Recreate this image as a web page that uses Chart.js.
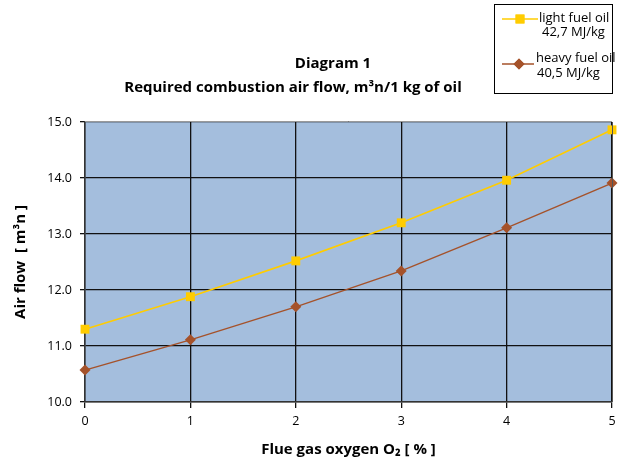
<!DOCTYPE html>
<html>
<head>
<meta charset="utf-8">
<script src="https://cdn.jsdelivr.net/npm/chart.js@4/dist/chart.umd.min.js"></script>
<style>
  html, body { margin: 0; padding: 0; background: #fff; }
  #wrap { position: relative; width: 622px; height: 460px; }
</style>
</head>
<body>
<div id="wrap"><canvas id="c" width="622" height="460"></canvas></div>
<script>
const oxygenPercent = [0, 1, 2, 3, 4, 5];
const lightFuelOil = [11.30, 11.88, 12.52, 13.20, 13.96, 14.86];
const heavyFuelOil = [10.57, 11.11, 11.70, 12.34, 13.11, 13.91];
const seriesNames = [["light fuel oil", "42,7 MJ/kg"], ["heavy fuel oil", "40,5 MJ/kg"]];
const titleLines = ["Diagram 1", "Required combustion air flow, m³n/1 kg of oil"];
const xTitle = "Flue gas oxygen O₂ [ % ]";
const yTitle = "Air flow  [ m³n ]";

const FONT = "'Open Sans', 'Noto Sans', sans-serif";
const LIGHT = '#FFCC00';
const HEAVY = '#A5522A';

const toPoints = ys => oxygenPercent.map((x, i) => ({ x: x, y: ys[i] }));

const bgPlugin = {
  id: 'bg',
  beforeDraw(chart) {
    const { ctx, chartArea: a } = chart;
    ctx.save();
    ctx.fillStyle = '#A4BEDD';
    ctx.fillRect(a.left, a.top, a.right - a.left, a.bottom - a.top);
    ctx.restore();
  }
};

const overlayPlugin = {
  id: 'overlay',
  afterDraw(chart) {
    const ctx = chart.ctx;
    const a = chart.chartArea;
    ctx.save();
    // plot border
    ctx.strokeStyle = '#999';
    ctx.lineWidth = 1;
    ctx.beginPath();
    ctx.moveTo(a.left, a.top - 0.5);
    ctx.lineTo(a.right, a.top - 0.5);
    ctx.stroke();
    ctx.strokeStyle = '#555';
    ctx.beginPath();
    ctx.moveTo(a.right + 0.5, a.top);
    ctx.lineTo(a.right + 0.5, a.bottom);
    ctx.stroke();

    // titles
    ctx.fillStyle = '#000';
    ctx.textAlign = 'center';
    ctx.textBaseline = 'middle';
    ctx.font = "bold 15px " + FONT;
    ctx.fillText(titleLines[0], 333, 64);
    ctx.fillText(titleLines[1], 293, 88);

    // legend box
    ctx.strokeStyle = '#000';
    ctx.lineWidth = 1;
    ctx.strokeRect(494.5, 4.5, 118, 89);
    const ds = chart.data.datasets;
    const rows = [{ y: 19, ty: [18, 32], lx: [502, 538], mx: 520, tx: [539, 542] },
                  { y: 64, ty: [58, 73], lx: [502, 534], mx: 519, tx: [536, 537] }];
    ctx.font = "13px " + FONT;
    ctx.textAlign = 'left';
    rows.forEach((r, i) => {
      const d = ds[i];
      ctx.strokeStyle = d.borderColor;
      ctx.lineWidth = 1.5;
      ctx.beginPath();
      ctx.moveTo(r.lx[0], r.y);
      ctx.lineTo(r.lx[1], r.y);
      ctx.stroke();
      ctx.fillStyle = d.pointBackgroundColor;
      Chart.helpers.drawPoint(ctx, { pointStyle: d.pointStyle, radius: d.pointRadius, borderWidth: 0, rotation: 0 }, r.mx, r.y);
      ctx.fill();
      ctx.fillStyle = '#000';
      ctx.fillText(seriesNames[i][0], r.tx[0], r.ty[0]);
      ctx.fillText(seriesNames[i][1], r.tx[1], r.ty[1]);
    });
    ctx.restore();
  }
};

new Chart(document.getElementById('c'), {
  type: 'line',
  data: {
    datasets: [
      {
        label: seriesNames[0].join(' '),
        data: toPoints(lightFuelOil),
        borderColor: LIGHT,
        backgroundColor: LIGHT,
        pointBackgroundColor: LIGHT,
        pointBorderColor: LIGHT,
        pointBorderWidth: 0,
        pointStyle: 'rect',
        pointRadius: 6.3,
        borderWidth: 1.6,
        tension: 0,
        clip: false
      },
      {
        label: seriesNames[1].join(' '),
        data: toPoints(heavyFuelOil),
        borderColor: HEAVY,
        backgroundColor: HEAVY,
        pointBackgroundColor: HEAVY,
        pointBorderColor: HEAVY,
        pointBorderWidth: 0,
        pointStyle: 'rectRot',
        pointRadius: 5.5,
        borderWidth: 1.4,
        tension: 0,
        clip: false
      }
    ]
  },
  options: {
    responsive: false,
    animation: false,
    devicePixelRatio: 1,
    layout: { padding: { top: 122, right: 10, left: 0, bottom: 0 } },
    plugins: {
      legend: { display: false },
      title: { display: false },
      tooltip: { enabled: false }
    },
    scales: {
      x: {
        type: 'linear',
        min: 0, max: 5,
        afterFit(s) { s.height = 58; },
        ticks: { stepSize: 1, color: '#000', font: { family: FONT, size: 12.5 }, padding: 6 },
        grid: { color: '#111', lineWidth: 1.3, tickLength: 6, tickColor: '#111' },
        border: { color: '#333', width: 1.5 },
        title: { display: true, text: xTitle, color: '#000', font: { family: FONT, size: 15, weight: 'bold' }, padding: { top: 0, bottom: 1 } }
      },
      y: {
        type: 'linear',
        min: 10, max: 15,
        afterFit(s) { s.width = 85; },
        ticks: { stepSize: 1, color: '#000', font: { family: FONT, size: 12.5 }, padding: 8, callback: v => v.toFixed(1) },
        grid: { color: '#111', lineWidth: 1.3, tickLength: 5, tickColor: '#111' },
        border: { color: '#333', width: 1.5 },
        title: { display: true, text: yTitle, color: '#000', font: { family: FONT, size: 15, weight: 'bold' }, padding: { top: 12, bottom: 0 } }
      }
    }
  },
  plugins: [bgPlugin, overlayPlugin]
});
</script>
</body>
</html>
